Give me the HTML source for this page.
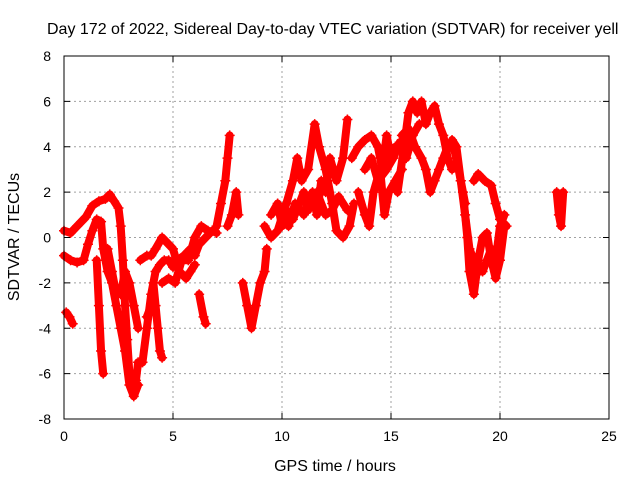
<!DOCTYPE html>
<html><head><meta charset="utf-8"><style>
body{margin:0;background:#fff}
svg text{font-family:"Liberation Sans",sans-serif;font-size:14px;fill:#000}
svg text.big{font-size:16px}
</style></head><body>
<svg id="chart" width="640" height="480" viewBox="0 0 640 480" xmlns="http://www.w3.org/2000/svg">
<rect width="640" height="480" fill="#fff"/>
<text class="big" x="47" y="34">Day 172 of 2022, Sidereal Day-to-day VTEC variation (SDTVAR) for receiver yell</text>
<g id="grid"></g><g id="marks"></g><g id="axes"></g>
<text class="big" x="335" y="471" text-anchor="middle">GPS time / hours</text>
<text class="big" transform="translate(19,237) rotate(-90)" text-anchor="middle">SDTVAR / TECUs</text>
</svg>
<script>
const xTicks=[0,5,10,15,20,25];
const yTicks=[-8,-6,-4,-2,0,2,4,6,8];
const track1=[[0,0.3],[0.3,0.2],[0.6,0.5],[1.0,0.9],[1.3,1.4],[1.6,1.6],[1.9,1.7],[2.1,1.9],[2.3,1.6],[2.5,1.3],[2.6,0.5],[2.7,-1],[2.8,-3],[2.9,-4.5],[3.0,-6],[3.2,-6.8],[3.3,-6.3],[3.4,-5.5],[3.6,-5.5]];
const track2=[[0,-0.8],[0.3,-1],[0.6,-1.1],[0.9,-1],[1.1,-0.3],[1.3,0.3],[1.5,0.8],[1.7,0.7],[1.8,-0.5],[2.0,-1.5],[2.2,-2],[2.4,-3],[2.6,-4],[2.8,-5],[3.0,-6.5],[3.2,-7],[3.4,-6.5]];
const track3=[[0.1,-3.3],[0.25,-3.5],[0.4,-3.8]];
const track4=[[1.5,-1],[1.6,-3],[1.7,-5],[1.8,-6]];
const track5=[[2.0,-0.5],[2.2,-1.5],[2.4,-2.5],[2.6,-2.5],[2.8,-1.5],[3.0,-2],[3.2,-3],[3.4,-4]];
const track6=[[3.6,-5.5],[3.8,-4],[4.0,-2.5],[4.2,-1.5],[4.4,-1.2],[4.6,-1],[4.8,-1],[5.0,-1.3],[5.2,-1],[5.5,-0.8],[5.8,-0.5],[6.0,-0.8],[6.2,-0.3],[6.5,0],[6.8,0.3],[7.0,0.2]];
const track7=[[3.5,-1],[3.8,-0.8],[4.0,-0.8],[4.2,-0.5],[4.5,0],[4.8,-0.3],[5.0,-0.5],[5.3,-1.5],[5.6,-1.8],[5.8,-1.5],[6.0,-1.2]];
const track8=[[3.8,-3.5],[4.0,-3],[4.1,-2],[4.2,-3],[4.3,-4],[4.4,-5],[4.5,-5.3]];
const track9=[[6.2,-2.5],[6.4,-3.5],[6.5,-3.8]];
const track10=[[7.0,0.5],[7.2,1.5],[7.4,2.5],[7.5,3.5],[7.6,4.5]];
const track11=[[7.5,0.5],[7.7,1],[7.9,2],[8.0,1]];
const track12=[[8.2,-2],[8.4,-3],[8.6,-4],[8.8,-3],[9.0,-2],[9.2,-1.5],[9.3,-0.5]];
const track13=[[9.5,1],[9.8,1.5],[10,0.5],[10.2,1.2],[10.5,0.8],[10.8,1.5],[11,2],[11.2,1.2],[11.4,2],[11.6,1],[11.8,2.5],[12,2],[12.2,3.5],[12.5,2.5],[12.8,3.5],[13,5.2]];
const track14=[[9.2,0.5],[9.5,0],[9.8,0.3],[10.2,1.5],[10.5,2.5],[10.7,3.5],[10.9,2.5],[11.2,3],[11.5,5],[11.7,4],[12,3],[12.3,1.5],[12.5,0.3],[12.8,0],[13.1,0.5],[13.3,1.5]];
const track15=[[13.2,3.5],[13.5,4],[13.8,4.3],[14.1,4.5],[14.4,4],[14.6,3],[14.8,4.5],[15,3.5],[15.2,4]];
const track16=[[13.5,2],[13.8,1],[14,0.5],[14.2,2],[14.5,3],[14.7,1],[14.9,2],[15.2,2.5],[15.5,3]];
const track17=[[15.3,2],[15.6,4],[15.8,5.5],[16,6],[16.2,5.5],[16.4,6],[16.6,5],[16.8,5.5],[17,5.8],[17.2,5],[17.4,4.5],[17.6,3.5],[17.8,3]];
const track18=[[15.5,4.5],[15.8,4.8],[16.1,4],[16.4,3.5],[16.6,3],[16.8,2],[17,2.5],[17.2,3],[17.4,3.5],[17.6,4],[17.8,4.2],[18,3.5],[18.2,2.5],[18.4,1.5]];
const track19=[[17.8,4.3],[18,4],[18.2,2.5],[18.4,1],[18.6,-0.5],[18.8,-1],[19,-1.5],[19.2,-1.5],[19.4,-1],[19.6,-0.5],[19.8,-1],[20,0.5],[20.2,1]];
const track20=[[18.3,2],[18.5,0],[18.6,-1.5],[18.8,-2.5],[19,-1],[19.2,0],[19.4,0.2],[19.6,-1],[19.8,-1.8],[20,-1],[20.2,0.5]];
const track21=[[18.8,2.5],[19,2.8],[19.3,2.5],[19.6,2.3],[19.8,1.5],[20,0.8],[20.3,0.5]];
const track22=[[22.6,2],[22.7,1],[22.8,0.5],[22.9,2]];
const track23=[[4.5,-2],[4.8,-1.8],[5.1,-2],[5.4,-1],[5.7,-1],[6.0,0],[6.3,0.5],[6.6,0.3]];
const track24=[[10.3,0.5],[10.6,1.5],[11.0,1],[11.3,1.8],[11.6,2],[12.0,1],[12.3,1.2],[12.6,1.8],[13.0,1.2]];
const track25=[[13.8,3],[14.1,3.5],[14.4,2.5],[14.8,3],[15.1,3.5],[15.4,4.2],[15.7,3.5],[16.0,4.5],[16.3,5]];
const tracks=[track1,track2,track3,track4,track5,track6,track7,track8,track9,track10,track11,track12,track13,track14,track15,track16,track17,track18,track19,track20,track21,track22,track23,track24,track25];

const L=64,R=609,T=56,B=419;
const X=v=>L+(v-0)/25*(R-L);
const Y=v=>B-(v+8)/16*(B-T);
const NS='http://www.w3.org/2000/svg';
function mk(tag,attrs,parent){const e=document.createElementNS(NS,tag);for(const k in attrs)e.setAttribute(k,attrs[k]);parent.appendChild(e);return e;}
const grid=document.getElementById('grid'),axes=document.getElementById('axes'),marks=document.getElementById('marks');
xTicks.forEach(t=>{
  if(t>0&&t<25){const g=mk('line',{x1:X(t),x2:X(t),y1:T,y2:B,stroke:'#a0a0a0','stroke-dasharray':'2,3'},grid);
  
  }
  mk('line',{x1:X(t),x2:X(t),y1:B,y2:B-6,stroke:'#000'},axes);
  mk('line',{x1:X(t),x2:X(t),y1:T,y2:T+6,stroke:'#000'},axes);
  const tx=mk('text',{x:X(t),y:B+22,'text-anchor':'middle'},axes);tx.textContent=t;
  
  
});
yTicks.forEach(t=>{
  if(t>-8&&t<8){const g=mk('line',{x1:L,x2:R,y1:Y(t),y2:Y(t),stroke:'#a0a0a0','stroke-dasharray':'2,3'},grid);
  
  }
  mk('line',{x1:L,x2:L+6,y1:Y(t),y2:Y(t),stroke:'#000'},axes);
  mk('line',{x1:R,x2:R-6,y1:Y(t),y2:Y(t),stroke:'#000'},axes);
  const tx=mk('text',{x:L-13,y:Y(t)+5,'text-anchor':'end'},axes);tx.textContent=t;
  
  
});
const frame=mk('rect',{x:L,y:T,width:R-L,height:B-T,fill:'none',stroke:'#000'},axes);


tracks.forEach(tr=>{
  const pl=mk('polyline',{points:tr.map(p=>X(p[0])+','+Y(p[1])).join(' '),fill:'none',stroke:'#ff0000','stroke-width':8,'stroke-linejoin':'round','stroke-linecap':'round'},marks);
  
  
  tr.forEach(p=>{
    const x=X(p[0]),y=Y(p[1]);
    const m=mk('path',{d:`M${x-5},${y}H${x+5}M${x},${y-5}V${y+5}`,stroke:'#ff0000','stroke-width':1.5},marks);
    
    
  });
});
</script>
</body></html>
